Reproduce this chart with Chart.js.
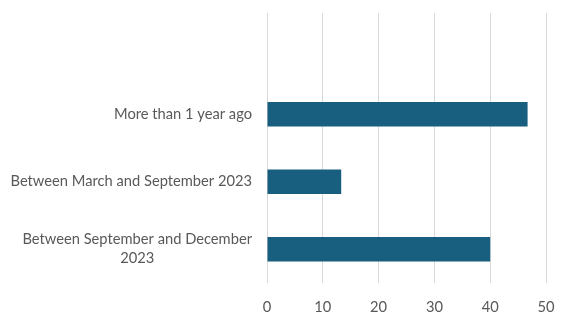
<!DOCTYPE html>
<html>
<head>
<meta charset="utf-8">
<script src="https://cdn.jsdelivr.net/npm/chart.js@4.4.0/dist/chart.umd.min.js"></script>
<style>
  html, body { margin: 0; padding: 0; background: #fff; overflow: hidden; }
  canvas { display: block; }
</style>
</head>
<body>
<canvas id="chart" width="562" height="315"></canvas>
<script>
// data
var categories = ["", "More than 1 year ago", "Between March and September 2023", ["Between September and December", "2023"]];
var values = [null, 46.7, 13.3, 40];
var xTicks = [0, 10, 20, 30, 40, 50];

var textColor = "#595959";
var labelFont = "14.7px Lato";

// draws the category labels, lines centred on each other like Excel does
var catLabels = {
  id: "catLabels",
  afterDraw: function (chart) {
    var ctx = chart.ctx;
    var y = chart.scales.y;
    ctx.save();
    ctx.font = labelFont;
    ctx.fillStyle = textColor;
    ctx.textBaseline = "middle";
    ctx.textAlign = "center";
    categories.forEach(function (lab, i) {
      var lines = Array.isArray(lab) ? lab : [lab];
      var w = Math.max.apply(null, lines.map(function (l) { return ctx.measureText(l).width; }));
      var cy = y.getPixelForValue(i);
      var right = chart.chartArea.left - 15;
      lines.forEach(function (l, j) {
        ctx.fillText(l, right - w / 2, cy + (j - (lines.length - 1) / 2) * 19);
      });
    });
    ctx.restore();
  }
};

new Chart(document.getElementById("chart"), {
  type: "bar",
  data: {
    labels: categories,
    datasets: [{
      data: values,
      backgroundColor: "#175e7f",
      borderWidth: 0,
      barPercentage: 0.36,
      categoryPercentage: 1
    }]
  },
  options: {
    indexAxis: "y",
    responsive: false,
    animation: false,
    layout: { padding: { top: 13, right: 16, left: 0, bottom: 0 } },
    plugins: {
      legend: { display: false },
      tooltip: { enabled: false }
    },
    scales: {
      x: {
        min: 0,
        max: 50,
        afterBuildTicks: function (s) { s.ticks = xTicks.map(function (v) { return { value: v }; }); },
        afterFit: function (s) {
          s.height = 32;
          s.paddingLeft = 0;
          s.paddingRight = 0;
        },
        grid: { color: "#d9d9d9", lineWidth: 1, drawTicks: false },
        border: { display: false },
        ticks: {
          padding: 15,
          color: textColor,
          font: { size: 14.7, family: "Lato" }
        }
      },
      y: {
        afterFit: function (s) { s.width = 267; },
        grid: { display: false, drawTicks: false },
        border: { display: false },
        ticks: { display: false }
      }
    }
  },
  plugins: [catLabels]
});
</script>
</body>
</html>
